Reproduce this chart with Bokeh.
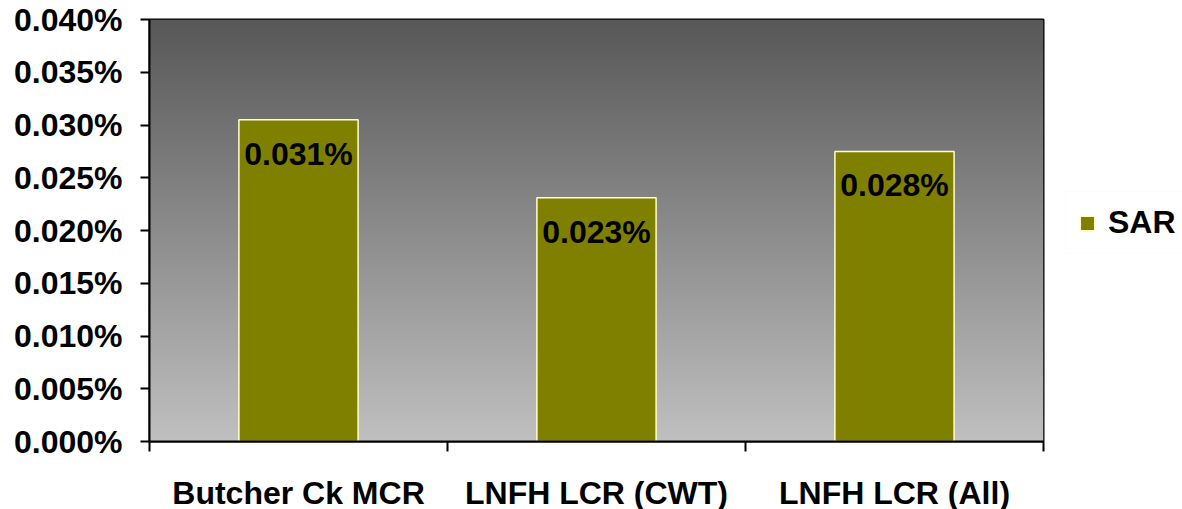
import numpy as np
from decimal import Decimal, ROUND_HALF_UP
from bokeh.plotting import figure
from bokeh.models import (ColumnDataSource, FixedTicker, PrintfTickFormatter,
                          Range1d, Legend, LegendItem)
from bokeh.core.properties import value
from bokeh.embed import file_html
from bokeh.resources import INLINE

# SAR by release group, in percent
categories = ["Butcher Ck MCR", "LNFH LCR (CWT)", "LNFH LCR (All)"]
sar_values = [0.0305, 0.0231, 0.0275]
y_ticks = [0.0, 0.005, 0.010, 0.015, 0.020, 0.025, 0.030, 0.035, 0.040]

FONT = "Liberation Sans"
BAR_COLOR = "#808000"
EDGE_COLOR = "#ffffcc"


def pct_label(v):
    d = Decimal(str(v)).quantize(Decimal("0.001"), rounding=ROUND_HALF_UP)
    return f"{d}%"


xs = [i + 0.5 for i in range(len(categories))]
src = ColumnDataSource(dict(x=xs, top=sar_values,
                            label=[pct_label(v) for v in sar_values]))

p = figure(frame_width=894, frame_height=422,
           output_backend="svg", toolbar_location=None,
           x_range=Range1d(0, len(categories)), y_range=Range1d(0, 0.04),
           min_border_left=149, min_border_right=139,
           min_border_top=19, min_border_bottom=68)
p.background_fill_color = None
p.border_fill_color = "white"
p.outline_line_color = "black"
p.outline_line_width = 2
p.xgrid.visible = False
p.ygrid.visible = False

# vertical grey gradient behind the bars
n = 256
t = np.linspace(0.0, 1.0, n)  # 0 = bottom, 1 = top
bottom_rgb = np.array([192, 192, 192])
top_rgb = np.array([88, 88, 88])
rgb = bottom_rgb[None, :] * (1 - t[:, None]) + top_rgb[None, :] * t[:, None]
img = np.zeros((n, 1), dtype=np.uint32)
view = img.view(dtype=np.uint8).reshape((n, 1, 4))
view[:, 0, 0] = rgb[:, 0].astype(np.uint8)
view[:, 0, 1] = rgb[:, 1].astype(np.uint8)
view[:, 0, 2] = rgb[:, 2].astype(np.uint8)
view[:, 0, 3] = 255
p.image_rgba(image=[img], x=0, y=0, dw=len(categories), dh=0.04)

bars = p.vbar(x="x", top="top", width=0.4, source=src,
              fill_color=BAR_COLOR, line_color=EDGE_COLOR, line_width=1.5)

p.text(x="x", y="top", text="label", source=src,
       text_font=value(FONT), text_font_style="bold", text_font_size="32px",
       text_color="black", text_align="center", text_baseline="middle",
       y_offset=34)

# y axis
p.yaxis.ticker = FixedTicker(ticks=y_ticks)
p.yaxis.formatter = PrintfTickFormatter(format="%.3f%%")
p.yaxis.major_label_text_font = FONT
p.yaxis.major_label_text_font_style = "bold"
p.yaxis.major_label_text_font_size = "32px"
p.yaxis.major_label_text_color = "black"
p.yaxis.major_tick_out = 9
p.yaxis.major_tick_in = 0
p.yaxis.minor_tick_line_color = None
p.yaxis.axis_line_width = 2
p.yaxis.major_tick_line_width = 2
p.yaxis.major_label_standoff = 18

# x axis: tick marks between groups, names centred under the bars
p.xaxis.ticker = FixedTicker(ticks=xs, minor_ticks=list(range(len(categories) + 1)))
p.xaxis.major_label_overrides = {x: c for x, c in zip(xs, categories)}
p.xaxis.major_tick_line_color = None
p.xaxis.minor_tick_out = 10
p.xaxis.minor_tick_in = 0
p.xaxis.minor_tick_line_width = 2
p.xaxis.axis_line_width = 2
p.xaxis.major_label_text_font = FONT
p.xaxis.major_label_text_font_style = "bold"
p.xaxis.major_label_text_font_size = "32px"
p.xaxis.major_label_text_color = "black"
p.xaxis.major_label_standoff = 23

legend = Legend(items=[LegendItem(label="SAR", renderers=[bars])],
                location=(22, 187), orientation="vertical",
                border_line_color=EDGE_COLOR, border_line_width=1.5,
                background_fill_color="white", background_fill_alpha=1,
                label_text_font=FONT, label_text_font_style="bold",
                label_text_font_size="32px", label_text_color="black",
                glyph_width=18, glyph_height=18, label_standoff=12,
                padding=12, margin=0, spacing=0)
p.add_layout(legend, "right")

open("out.html", "w").write(file_html(p, INLINE))
